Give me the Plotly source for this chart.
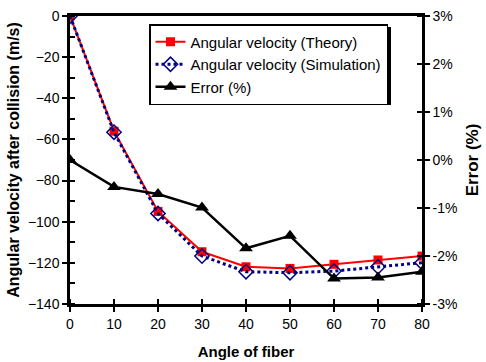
import plotly.graph_objects as go

angles = [0, 10, 20, 30, 40, 50, 60, 70, 80]
theory = [0, -56, -95, -114.6, -121.9, -122.7, -120.7, -118.6, -116.7]
simulation = [0, -56.5, -96, -116.7, -124.3, -124.8, -124, -121.9, -119.9]
error_pct = [0.0, -0.0056, -0.0071, -0.0099, -0.0184, -0.0158, -0.0247, -0.0245, -0.0233]

FONT = "Liberation Sans, Arial, sans-serif"

fig = go.Figure()
fig.add_trace(go.Scatter(
    x=angles, y=theory, name="Angular velocity (Theory)", mode="lines+markers",
    line=dict(color="#ff0000", width=2),
    marker=dict(symbol="square", size=9, color="#ff0000"),
))
fig.add_trace(go.Scatter(
    x=angles, y=simulation, name="Angular velocity (Simulation)", mode="lines+markers",
    line=dict(color="#000080", width=3, dash="dot"),
    marker=dict(symbol="diamond-open", size=11, color="#000080", line=dict(width=1.5)),
))
fig.add_trace(go.Scatter(
    x=angles, y=error_pct, name="Error (%)", mode="lines+markers", yaxis="y2",
    line=dict(color="#000000", width=2.5),
    marker=dict(symbol="triangle-up", size=12, color="#000000"),
))

L, R, T, B = 70, 64, 16, 58
W, H = 486, 362
pw, ph = W - L - R, H - T - B

def px_x(p):
    return (p - L) / pw

def px_y(p):
    return (H - B - p) / ph

# legend shadow
fig.add_shape(type="rect", xref="paper", yref="paper",
              x0=px_x(152), x1=px_x(391), y0=px_y(105), y1=px_y(27),
              fillcolor="black", line=dict(width=0), layer="above")

axis_common = dict(
    showgrid=False, zeroline=False, showline=True, linecolor="black", linewidth=2.5,
    ticks="outside", ticklen=5, tickwidth=1.5, tickcolor="black", automargin=False,
    tickfont=dict(family=FONT, size=14, color="black"),
)

fig.update_layout(
    width=W, height=H,
    margin=dict(l=L, r=R, t=T, b=B, autoexpand=False),
    paper_bgcolor="white", plot_bgcolor="white",
    font=dict(family=FONT, color="black"),
    showlegend=True,
    legend=dict(
        x=px_x(149), y=px_y(24), xanchor="left", yanchor="top",
        bgcolor="white", bordercolor="black", borderwidth=1.5,
        font=dict(family=FONT, size=15, color="black"),
        tracegroupgap=0, itemwidth=30,
    ),
    xaxis=dict(
        range=[0, 80], tickvals=angles, ticktext=[str(a) for a in angles],
        mirror=True,
        minor=dict(ticks="inside", tickvals=angles, ticklen=5, tickwidth=1.5, tickcolor="black"),
        title=dict(text="<b>Angle of fiber</b>", font=dict(family=FONT, size=15, color="black"), standoff=16),
        **axis_common,
    ),
    yaxis=dict(
        range=[-140, 0], tickvals=[0, -20, -40, -60, -80, -100, -120, -140],
        minor=dict(ticks="inside", dtick=10, ticklen=5, tickwidth=1.5, tickcolor="black"),
        title=dict(text="<b>Angular velocity after collision (m/s)</b>",
                   font=dict(family=FONT, size=16, color="black"), standoff=5),
        **axis_common,
    ),
    yaxis2=dict(
        range=[-0.03, 0.03], overlaying="y", side="right",
        tickvals=[0.03, 0.02, 0.01, 0, -0.01, -0.02, -0.03],
        ticktext=["3%", "2%", "1%", "0%", "-1%", "-2%", "-3%"],
        minor=dict(ticks="inside", tickvals=[0.03, 0.02, 0.01, 0, -0.01, -0.02, -0.03],
                   ticklen=5, tickwidth=1.5, tickcolor="black"),
        title=dict(text="<b>Error (%)</b>", font=dict(family=FONT, size=17, color="black"), standoff=10),
        **axis_common,
    ),
)

fig.write_html("out.html")
